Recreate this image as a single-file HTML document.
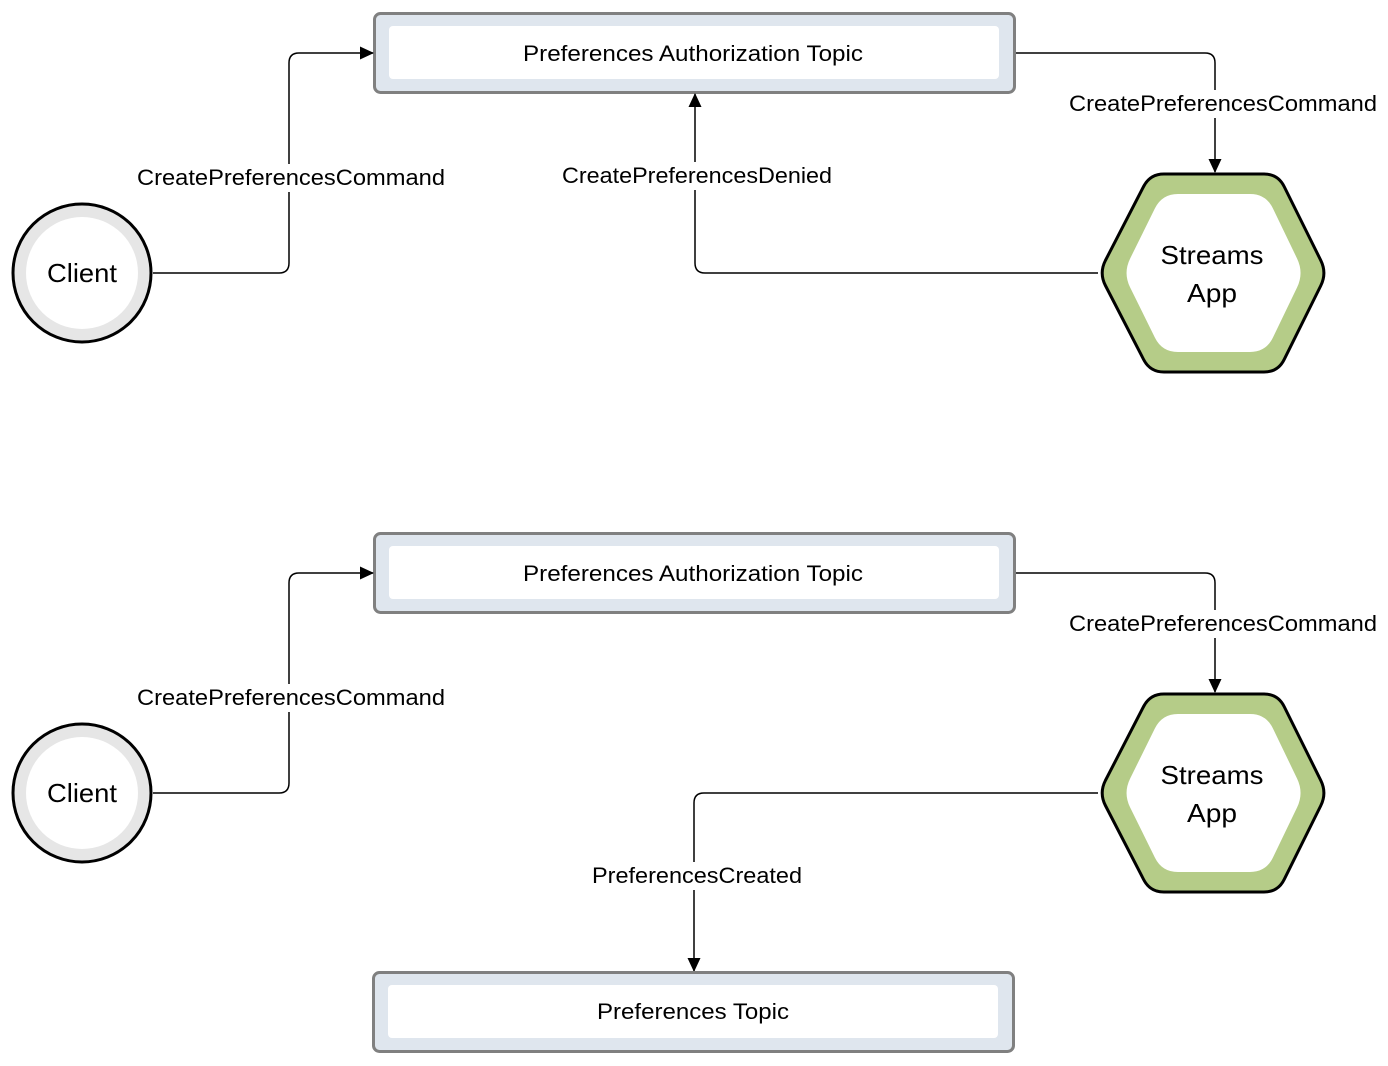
<!DOCTYPE html>
<html><head><meta charset="utf-8"><style>
html,body{margin:0;padding:0;background:#fff;}
svg{display:block;}
text{font-family:"Liberation Sans",sans-serif;fill:#000;}
</style></head><body>
<svg width="1388" height="1066" viewBox="0 0 1388 1066" xmlns="http://www.w3.org/2000/svg">
<defs>
<marker id="ar" markerWidth="14" markerHeight="14" refX="13" refY="7" orient="auto" markerUnits="userSpaceOnUse">
<path d="M0,0.5 L14,7 L0,13.5 Z" fill="#000"/></marker>
<g id="client">
<circle cx="0" cy="0" r="69" fill="#e6e6e6" stroke="#000" stroke-width="3"/>
<circle cx="0" cy="0" r="56" fill="#fff"/>
<text x="0" y="9" font-size="26" text-anchor="middle" textLength="70" lengthAdjust="spacingAndGlyphs">Client</text>
</g>
<g id="hex">
<path d="M1105.4,260.5 L1143.6,186.5 Q1150,174 1164,174 L1264,174 Q1278,174 1284.2,186.6 L1320.8,260.4 Q1327,273 1320.8,285.6 L1284.2,359.4 Q1278,372 1264,372 L1164,372 Q1150,372 1143.6,359.5 L1105.4,285.5 Q1099,273 1105.4,260.5 Z" fill="#b5cc88" stroke="#000" stroke-width="3"/>
<path d="M1130.1,258.6 L1154.9,208.4 Q1162,194 1178,194 L1250,194 Q1266,194 1272.9,208.4 L1297.1,258.6 Q1304,273 1297.1,287.4 L1272.9,337.6 Q1266,352 1250,352 L1178,352 Q1162,352 1154.9,337.6 L1130.1,287.4 Q1123,273 1130.1,258.6 Z" fill="#fff"/>
<text x="1212" y="-9" font-size="26" text-anchor="middle" textLength="103" lengthAdjust="spacingAndGlyphs" transform="translate(0,273)">Streams</text>
<text x="1212" y="29" font-size="26" text-anchor="middle" textLength="50" lengthAdjust="spacingAndGlyphs" transform="translate(0,273)">App</text>
</g>
</defs>

<!-- TOP DIAGRAM -->
<rect x="374.5" y="13.5" width="640" height="79" rx="6" fill="#dfe6ee" stroke="#808080" stroke-width="3"/>
<rect x="389" y="26" width="610" height="53" rx="4" fill="#fff"/>
<text x="693" y="61" font-size="22" text-anchor="middle" textLength="340" lengthAdjust="spacingAndGlyphs">Preferences Authorization Topic</text>
<use href="#client" x="82" y="273"/>
<use href="#hex" x="0" y="0"/>
<path d="M153,273 H279 Q289,273 289,263 V63 Q289,53 299,53 H373" fill="none" stroke="#000" stroke-width="1.5" marker-end="url(#ar)"/>
<path d="M1016,53 H1205 Q1215,53 1215,63 V172" fill="none" stroke="#000" stroke-width="1.5" marker-end="url(#ar)"/>
<path d="M1098,273 H705 Q695,273 695,263 V94" fill="none" stroke="#000" stroke-width="1.5" marker-end="url(#ar)"/>
<rect x="135" y="164" width="312" height="28" fill="#fff"/>
<text x="291" y="185" font-size="22" text-anchor="middle" textLength="308" lengthAdjust="spacingAndGlyphs">CreatePreferencesCommand</text>
<rect x="1067" y="90" width="312" height="28" fill="#fff"/>
<text x="1223" y="111" font-size="22" text-anchor="middle" textLength="308" lengthAdjust="spacingAndGlyphs">CreatePreferencesCommand</text>
<rect x="559" y="162" width="276" height="28" fill="#fff"/>
<text x="697" y="183" font-size="22" text-anchor="middle" textLength="270" lengthAdjust="spacingAndGlyphs">CreatePreferencesDenied</text>

<!-- BOTTOM DIAGRAM -->
<rect x="374.5" y="533.5" width="640" height="79" rx="6" fill="#dfe6ee" stroke="#808080" stroke-width="3"/>
<rect x="389" y="546" width="610" height="53" rx="4" fill="#fff"/>
<text x="693" y="581" font-size="22" text-anchor="middle" textLength="340" lengthAdjust="spacingAndGlyphs">Preferences Authorization Topic</text>
<use href="#client" x="82" y="793"/>
<use href="#hex" x="0" y="520"/>
<path d="M153,793 H279 Q289,793 289,783 V583 Q289,573 299,573 H373" fill="none" stroke="#000" stroke-width="1.5" marker-end="url(#ar)"/>
<path d="M1016,573 H1205 Q1215,573 1215,583 V692" fill="none" stroke="#000" stroke-width="1.5" marker-end="url(#ar)"/>
<path d="M1098,793 H704 Q694,793 694,803 V971" fill="none" stroke="#000" stroke-width="1.5" marker-end="url(#ar)"/>
<rect x="135" y="684" width="312" height="28" fill="#fff"/>
<text x="291" y="705" font-size="22" text-anchor="middle" textLength="308" lengthAdjust="spacingAndGlyphs">CreatePreferencesCommand</text>
<rect x="1067" y="610" width="312" height="28" fill="#fff"/>
<text x="1223" y="631" font-size="22" text-anchor="middle" textLength="308" lengthAdjust="spacingAndGlyphs">CreatePreferencesCommand</text>
<rect x="589" y="862" width="216" height="28" fill="#fff"/>
<text x="697" y="883" font-size="22" text-anchor="middle" textLength="210" lengthAdjust="spacingAndGlyphs">PreferencesCreated</text>

<rect x="373.5" y="972.5" width="640" height="79" rx="6" fill="#dfe6ee" stroke="#808080" stroke-width="3"/>
<rect x="388" y="985" width="610" height="53" rx="4" fill="#fff"/>
<text x="693" y="1019" font-size="22" text-anchor="middle" textLength="192" lengthAdjust="spacingAndGlyphs">Preferences Topic</text>
</svg>
</body></html>
